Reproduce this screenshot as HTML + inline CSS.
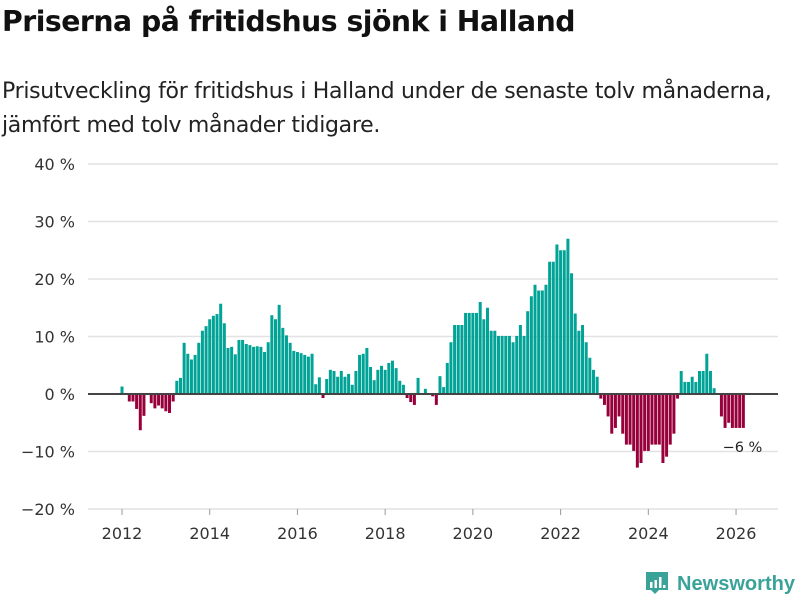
<!DOCTYPE html>
<html><head><meta charset="utf-8"><style>
body{margin:0;background:#fff;font-family:"Liberation Sans","DejaVu Sans",sans-serif;}
#wrap{position:relative;width:800px;height:600px;overflow:hidden;}
h1{position:absolute;left:2px;top:5px;margin:0;font-size:28.3px;font-weight:bold;color:#111;font-family:"DejaVu Sans",sans-serif;letter-spacing:-0.5px}
#sub{position:absolute;left:2px;top:75px;margin:0;font-size:22px;line-height:34px;color:#222;font-family:"DejaVu Sans",sans-serif;letter-spacing:-0.3px}
</style></head><body><div id="wrap">
<h1>Priserna på fritidshus sjönk i Halland</h1>
<p id="sub">Prisutveckling för fritidshus i Halland under de senaste tolv månaderna,<br>jämfört med tolv månader tidigare.</p>
<svg id="chart" width="800" height="600" style="position:absolute;left:0;top:0"></svg>
</div>
<script>
const yTicks=[-20,-10,0,10,20,30,40];
const xYears=[2012,2014,2016,2018,2020,2022,2024,2026];
const values=[1.3,null,-1.3,-1.3,-2.6,-6.3,-3.8,null,-1.6,-2.5,-2,-2.5,-3,-3.3,-1.3,2.3,2.8,8.9,7,6,6.8,8.9,11,11.8,13,13.6,13.9,15.7,12.3,8,8.2,6.9,9.4,9.4,8.7,8.5,8.2,8.3,8.2,7.3,9,13.7,13,15.5,11.5,10.2,8.9,7.5,7.3,7.1,6.8,6.5,7,1.7,2.9,-0.7,2.6,4.2,4,3,4,3,3.5,1.6,4,6.8,7,8,4.7,2.4,4.2,4.9,4.2,5.4,5.8,4.5,2.3,1.6,-0.7,-1.4,-1.9,2.8,null,0.9,null,-0.4,-1.9,3.1,1.2,5.4,9,12,12,12,14.1,14.1,14.1,14.1,16,13,15,11,11,10.1,10.1,10.1,10.1,9,10.1,12,10.1,14.4,17,19,18,18,19,23,23,26,25,25,27,21,14,11,12,9,6.3,4.2,3,-0.8,-1.9,-3.9,-6.9,-5.9,-3.9,-6.9,-8.8,-8.8,-9.9,-12.8,-12,-9.9,-9.9,-8.8,-8.8,-8.8,-12,-10.9,-8.8,-6.9,-0.8,4,2.1,2.1,3,2.1,4,4,7,4,1,null,-3.9,-5.9,-5,-5.9,-5.9,-5.9,-5.9];
const startYear=2012;
const lastLabel="−6 %";
const NS="http://www.w3.org/2000/svg";
const svg=document.getElementById('chart');
function y(v){return 394-v*5.75;}
function xm(i){return 122+i*3.655;}
function xYear(yr){return xm((yr-startYear)*12);}
function mk(t,a){const e=document.createElementNS(NS,t);for(const k in a)e.setAttribute(k,a[k]);svg.appendChild(e);return e;}
yTicks.forEach(t=>{
  if(t!==0){const g=mk('line',{x1:88,x2:778,y1:y(t),y2:y(t),stroke:'#e2e2e2','stroke-width':1.5});
  
  }
  const l=mk('text',{x:75,y:y(t)+6,'text-anchor':'end','font-size':16,fill:'#333','font-family':'DejaVu Sans, sans-serif'});
  l.textContent=(t<0?'−'+(-t):t)+' %';
  
  
});
xYears.forEach(yr=>{
  const tk=mk('line',{x1:xYear(yr),x2:xYear(yr),y1:509,y2:515,stroke:'#999','stroke-width':1});
  
  
  const l=mk('text',{x:xYear(yr),y:539,'text-anchor':'middle','font-size':16,fill:'#333','font-family':'DejaVu Sans, sans-serif'});
  l.textContent=yr;
  
  
});
values.forEach((v,i)=>{
  if(v===null)return;
  const top=Math.min(y(v),y(0)),h=Math.abs(y(v)-y(0));
  const r=mk('rect',{x:xm(i)-1.5,y:top,width:3,height:h,fill:v>=0?'#00a396':'#98003b'});
  
  
});
const z=mk('line',{x1:88,x2:778,y1:y(0),y2:y(0),stroke:'#444','stroke-width':2});


const li=values.length-1;
const lab=mk('text',{x:xm(li)+19,y:y(values[li])+24,'text-anchor':'end','font-size':14.5,fill:'#222','font-family':'DejaVu Sans, sans-serif'});
lab.textContent=lastLabel;


const lg=document.createElementNS(NS,'g');


svg.appendChild(lg);
lg.innerHTML='<path d="M646 572 h22 v18 h-9 l-4 4 l-4 -4 h-5 z" fill="#3aa399"/><rect x="650" y="582" width="2.5" height="6" fill="#fff"/><rect x="654.5" y="580" width="2.5" height="8" fill="#fff"/><rect x="659" y="577" width="2.5" height="11" fill="#fff"/><rect x="663" y="585" width="2.5" height="3" fill="#fff"/><text x="677" y="590" font-size="20" font-weight="bold" fill="#3aa399" font-family="Liberation Sans, sans-serif" textLength="118" lengthAdjust="spacingAndGlyphs">Newsworthy</text>';
</script></body></html>
